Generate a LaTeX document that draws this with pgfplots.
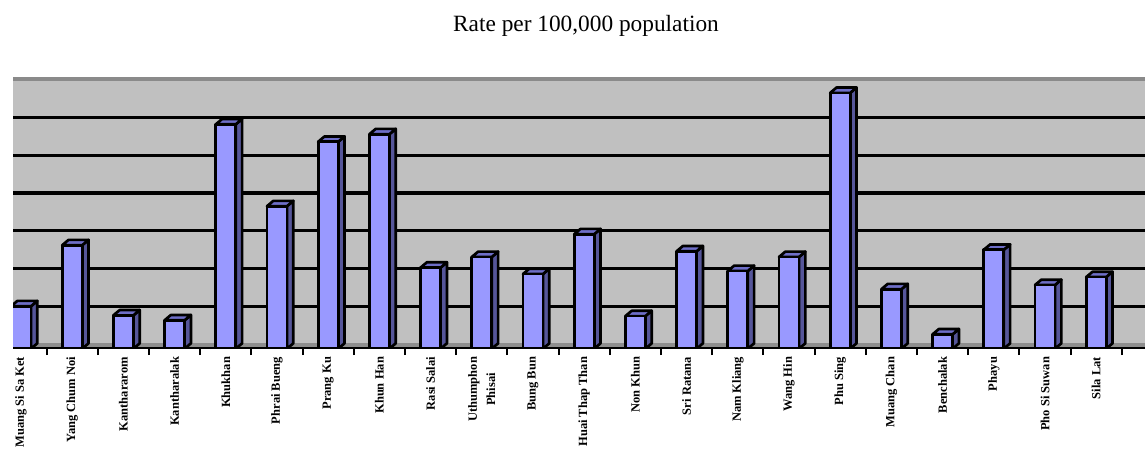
\documentclass[border=0pt]{standalone}
\usepackage{pgfplots}
\usepackage{pgfplotstable}
\pgfplotsset{compat=1.18}
\usepackage{fontspec}
\setmainfont{Liberation Serif}
\definecolor{bgray}{HTML}{C0C0C0}
\definecolor{floorgray}{HTML}{8E8E8E}
\definecolor{topgray}{HTML}{8A8A8A}
\definecolor{barfront}{HTML}{9999FF}
\definecolor{barside}{HTML}{56569A}
\definecolor{bartop}{HTML}{6E6EC8}
\pgfdeclareplotmark{nothing}{}
\pgfplotstableread{
x v
0 1.12
1 2.73
2 0.88
3 0.75
4 5.92
5 3.76
6 5.46
7 5.66
8 2.14
9 2.42
10 1.97
11 3.02
12 0.86
13 2.57
14 2.05
15 2.42
16 6.75
17 1.57
18 0.38
19 2.61
20 1.68
21 1.89
}\ratedata
\begin{document}
\begin{tikzpicture}
\useasboundingbox (0,0) rectangle (687pt,269.4pt);
\node[anchor=base, font=\fontsize{14}{16}\selectfont] at (351.6pt,250.4pt) {Rate per 100,000 population};
\begin{axis}[
  at={(7.8pt,60.18pt)}, anchor=south west,
  x=30.72pt, y=22.74pt,
  xmin=-0.156, xmax=21.95, ymin=0, ymax=7.156,
  axis line style={draw=none},
  axis background/.style={fill=bgray},
  ytick={0.108,1.108,2.108,3.108,4.108,5.108,6.108},
  yticklabels={},
  ymajorgrids=true,
  y tick style={draw=none},
  grid style={black, line width=1.9pt},
  xtick pos=bottom,
  xtick={0.5,1.5,...,21.5},
  xticklabels={},
  xtick align=outside,
  major tick length=3.8pt,
  x tick style={black, line width=1.2pt},
  extra x ticks={0,...,21},
  extra x tick labels={Muang Si Sa Ket,Yang Chum Noi,Kanthararom,Kantharalak,Khukhan,Phrai Bueng,Prang Ku,Khun Han,Rasi Salai,{Uthumphon\\Phisai},Bung Bun,Huai Thap Than,Non Khun,Sri Ratana,Nam Kliang,Wang Hin,Phu Sing,Muang Chan,Benchalak,Phayu,Pho Si Suwan,Sila Lat},
  extra x tick style={major tick length=0pt, x tick style={draw=none},
    tick label style={rotate=90, anchor=east, align=center, inner sep=0pt,
      font=\bfseries\fontsize{7.5}{11}\selectfont, xshift=-4.8pt}},
  clip marker paths=true,
]
\fill[floorgray] (axis cs:-1,0) rectangle (axis cs:23,0.16);
\fill[topgray] (axis cs:-1,7.05) rectangle (axis cs:23,7.2);
\draw[black, line width=1.6pt] (axis cs:-1,0) -- (axis cs:23,0);
\addplot[scatter, only marks, mark=nothing,
  visualization depends on={\thisrow{v}\as\val},
  scatter/@pre marker code/.code={%
    \pgfmathsetlengthmacro\hh{\val*22.74pt}%
    \filldraw[fill=barside, draw=black, line width=1.6pt, line join=round]
      (6pt,0pt) -- (9.8pt,3.2pt) -- (9.8pt,{3.2pt-\hh}) -- (6pt,{-\hh}) -- cycle;
    \filldraw[fill=bartop, draw=black, line width=1.6pt, line join=round]
      (-6pt,0pt) -- (-2.2pt,3.2pt) -- (9.8pt,3.2pt) -- (6pt,0pt) -- cycle;
    \filldraw[fill=barfront, draw=black, line width=1.6pt, line join=round]
      (-6pt,0pt) rectangle (6pt,{-\hh});
  },
  scatter/@post marker code/.code={},
] table[x=x, y=v] {\ratedata};
\end{axis}
\end{tikzpicture}
\end{document}
